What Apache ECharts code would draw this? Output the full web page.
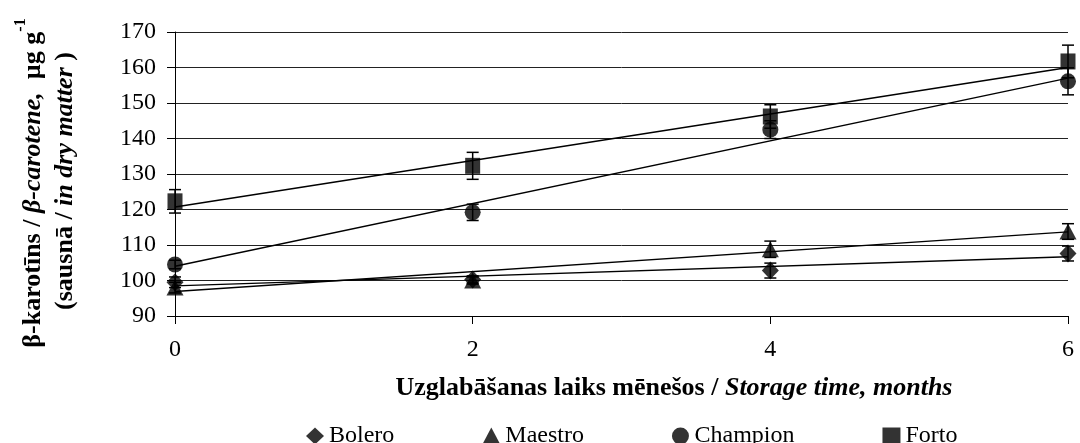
<!DOCTYPE html>
<html>
<head>
<meta charset="utf-8">
<script src="https://cdn.jsdelivr.net/npm/echarts@6/dist/echarts.min.js"></script>
<style>html,body{margin:0;padding:0;background:#fff;}#c{width:1080px;height:443px;}</style>
</head>
<body>
<div id="c"></div>
<script>
// ---- data ----
const months = [0, 2, 4, 6];
const yTicks = [90, 100, 110, 120, 130, 140, 150, 160, 170];
const varieties = ['Bolero', 'Maestro', 'Champion', 'Forto'];
const bolero   = [99.5, 100.3, 102.8, 107.6];
const maestro  = [98.0, 100.0, 108.8, 113.8];
const champion = [104.5, 119.2, 142.5, 156.1];
const forto    = [122.3, 132.3, 146.2, 161.7];
const boleroErr   = [1.5, 1.0, 2.1, 2.1];
const maestroErr  = [1.5, 1.0, 2.3, 2.2];
const championErr = [1.2, 2.3, 2.5, 3.8];
const fortoErr    = [3.3, 3.8, 3.3, 4.6];
// trend lines (value at month 0 and month 6)
const trendX = [0, 6];
const boleroTrend   = [98.5, 106.7];
const maestroTrend  = [96.9, 113.7];
const championTrend = [104.0, 157.0];
const fortoTrend    = [120.7, 160.0];

const FONT = '"Liberation Serif", "Times New Roman", serif';
const values = [bolero, maestro, champion, forto];
const errs = [boleroErr, maestroErr, championErr, fortoErr];
const trends = [boleroTrend, maestroTrend, championTrend, fortoTrend];
const symbols = ['diamond', 'triangle', 'circle', 'rect'];
const sizes = [[17, 18], [17, 16], [16, 16], [15, 16]];

const series = [];
varieties.forEach((name, i) => {
  series.push({
    type: 'line', name: name + ' trend', silent: true, showSymbol: false, symbol: 'none',
    data: trendX.map((x, j) => [x, trends[i][j]]),
    lineStyle: { color: '#000', width: 1.4 }, z: 2, animation: false
  });
});
varieties.forEach((name, i) => {
  series.push({
    type: 'custom', name: name + ' err', silent: true, z: 3,
    data: months.map((m, j) => [m, values[i][j], errs[i][j]]),
    renderItem: function (params, api) {
      const x = api.value(0), y = api.value(1), e = api.value(2);
      const top = api.coord([x, y + e]);
      const bot = api.coord([x, y - e]);
      const w = 6;
      const st = { stroke: '#000', lineWidth: 1.5 };
      return { type: 'group', children: [
        { type: 'line', shape: { x1: top[0], y1: top[1], x2: bot[0], y2: bot[1] }, style: st },
        { type: 'line', shape: { x1: top[0] - w, y1: top[1], x2: top[0] + w, y2: top[1] }, style: st },
        { type: 'line', shape: { x1: bot[0] - w, y1: bot[1], x2: bot[0] + w, y2: bot[1] }, style: st }
      ]};
    },
    animation: false
  });
});
varieties.forEach((name, i) => {
  series.push({
    type: 'scatter', name: name, symbol: symbols[i], symbolSize: sizes[i],
    data: months.map((m, j) => [m, values[i][j]]),
    itemStyle: { color: '#000' }, z: 4, animation: false
  });
});

const chart = echarts.init(document.getElementById('c'), null, { renderer: 'canvas' });
chart.setOption({
  backgroundColor: '#fff',
  animation: false,
  grid: { left: 175, right: 12, top: 32, bottom: 127, containLabel: false },
  xAxis: {
    type: 'value', min: months[0], max: months[months.length - 1], interval: 2,
    axisLine: { show: true, onZero: false, lineStyle: { color: '#000', width: 1 } },
    axisTick: { show: true, length: 8, inside: false, lineStyle: { color: '#000' } },
    axisLabel: { color: '#000', fontFamily: FONT, fontSize: 24, margin: 22 },
    splitLine: { show: false }
  },
  yAxis: {
    type: 'value', min: yTicks[0], max: yTicks[yTicks.length - 1], interval: 10,
    axisLine: { show: true, lineStyle: { color: '#000', width: 1 } },
    axisTick: { show: true, length: 8, inside: false, lineStyle: { color: '#000' } },
    axisLabel: { color: '#000', fontFamily: FONT, fontSize: 24, margin: 19 },
    splitLine: { show: true, lineStyle: { color: '#222', width: 1 } }
  },
  legend: {
    data: varieties, left: 301, top: 419, orient: 'horizontal', itemGap: 88,
    itemWidth: 18, itemHeight: 17,
    textStyle: { color: '#000', fontFamily: FONT, fontSize: 24, padding: [0, 0, 0, 0] },
    selectedMode: false
  },
  graphic: [
    {
      type: 'text', x: 674, y: 388,
      style: {
        text: '{b|Uzglabāšanas laiks mēnešos / }{bi|Storage time, months}',
        align: 'center', verticalAlign: 'middle',
        rich: {
          b: { fontFamily: FONT, fontSize: 26, fontWeight: 'bold', fill: '#000' },
          bi: { fontFamily: FONT, fontSize: 26, fontWeight: 'bold', fontStyle: 'italic', fill: '#000' }
        }
      }
    },
    {
      type: 'text', x: 33, y: 183, rotation: Math.PI / 2,
      style: {
        text: '{b|β-karotīns / }{bi|β-carotene,}{b|  µg g}{sup|-1}',
        align: 'center', verticalAlign: 'middle',
        rich: {
          b: { fontFamily: FONT, fontSize: 26, fontWeight: 'bold', fill: '#000', lineHeight: 40 },
          bi: { fontFamily: FONT, fontSize: 26, fontWeight: 'bold', fontStyle: 'italic', fill: '#000', lineHeight: 40 },
          sup: { fontFamily: FONT, fontSize: 16, fontWeight: 'bold', fill: '#000', verticalAlign: 'top', lineHeight: 16 }
        }
      }
    },
    {
      type: 'text', x: 65, y: 181, rotation: Math.PI / 2,
      style: {
        text: '{b|(sausnā / }{bi|in dry matter}{b| )}',
        align: 'center', verticalAlign: 'middle',
        rich: {
          b: { fontFamily: FONT, fontSize: 26, fontWeight: 'bold', fill: '#000' },
          bi: { fontFamily: FONT, fontSize: 26, fontWeight: 'bold', fontStyle: 'italic', fill: '#000' }
        }
      }
    }
  ],
  series: series
});
</script>
</body>
</html>
